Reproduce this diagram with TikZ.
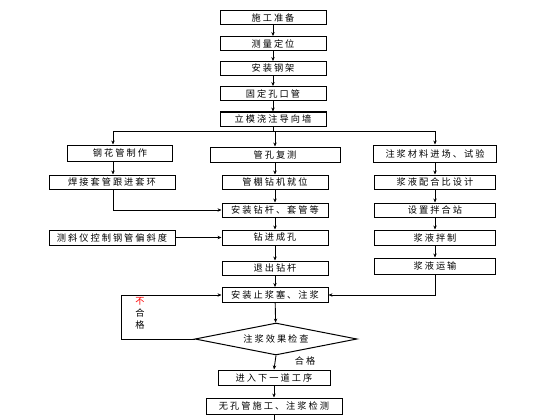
\documentclass[tikz,border=0pt]{standalone}
\usepackage{fontspec}
\newfontfamily\cjk[LetterSpace=22]{Noto Sans CJK SC}
\usetikzlibrary{arrows.meta,shapes.geometric,calc}
\begin{document}
\begin{tikzpicture}[x=1pt,y=-1pt,
  every node/.style={font=\cjk\fontsize{9.2}{10}\selectfont, inner sep=0pt},
  box/.style={draw, line width=1pt, minimum height=14pt, minimum width=#1, anchor=center},
  box/.default=106pt,
  ln/.style={line width=0.9pt},
  arr/.style={line width=0.9pt, -{Stealth[length=4pt,width=3.4pt]}}]
\useasboundingbox[fill=white] (0,0) rectangle (560,420);
% main top column
\node[box] (a1) at (273,17.5) {施工准备};
\node[box] (a2) at (273,43.5) {测量定位};
\node[box] (a3) at (273,68.5) {安装钢架};
\node[box] (a4) at (273,93.5) {固定孔口管};
\node[box] (a5) at (273,119) {立模浇注导向墙};
\coordinate (bl) at (113,131);
\coordinate (bm) at (275,131);
\coordinate (br) at (435,131);
% left column
\node[box=105pt, minimum height=16pt] (L1) at (120,153) {钢花管制作};
\node[box=126pt] (L2) at (112,182) {焊接套管跟进套环};
\node[box=126pt, minimum height=15pt] (L3) at (112,237.5) {测斜仪控制钢管偏斜度};
% middle column
\node[box=130pt, minimum height=15pt] (M1) at (275,154.5) {管孔复测};
\node[box] (M2) at (275,182) {管棚钻机就位};
\node[box] (M3) at (275,210) {安装钻杆、套管等};
\node[box, minimum height=15pt] (M4) at (275,237.5) {钻进成孔};
\node[box] (M5) at (275,268) {退出钻杆};
\node[box, minimum height=15pt] (M6) at (275,295) {安装止浆塞、注浆};
% right column
\node[box=123pt, minimum height=17pt] (R1) at (435,153.5) {注浆材料进场、试验};
\node[box=121pt] (R2) at (435,182) {浆液配合比设计};
\node[box=121pt] (R3) at (435,210) {设置拌合站};
\node[box=121pt, minimum height=15pt] (R4) at (435,237.5) {浆液拌制};
\node[box=121pt, minimum height=16pt] (R5) at (435,266) {浆液运输};
% decision
\node[draw, line width=1pt, diamond, aspect=5, minimum width=162pt, minimum height=32pt] (D) at (276,339) {注浆效果检查};
\node[box=112pt, minimum height=15pt] (N1) at (274,377.5) {进入下一道工序};
\node[box=136pt, minimum height=16pt] (N2) at (274,406) {无孔管施工、注浆检测};
\coordinate (end) at (274,420);
\coordinate (lp1) at (121,339);
\coordinate (lp2) at (121,295);
\coordinate (rp) at (435,295);
\coordinate (lx1) at (113,210);
% connectors
\draw[arr] (a1) -- (a2);
\draw[arr] (a2) -- (a3);
\draw[arr] (a3) -- (a4);
\draw[arr] (a4) -- (a5);
\draw[ln] (a5.south) -- (a5.south |- bm);
\draw[ln] (bl) -- (br);
\draw[arr] (bl) -- (L1.north -| bl);
\draw[arr] (bm) -- (M1.north);
\draw[arr] (br) -- (R1.north);
\draw[arr] (L1.south -| bl) -- (L2.north -| bl);
\draw[arr] (L2.south -| bl) -- (lx1) -- (M3.west);
\draw[arr] (L3.east) -- (M4.west);
\draw[arr] (M1) -- (M2);
\draw[arr] (M2) -- (M3);
\draw[arr] (M3) -- (M4);
\draw[arr] (M4) -- (M5);
\draw[arr] (M5) -- (M6);
\draw[arr] (R1) -- (R2);
\draw[arr] (R2) -- (R3);
\draw[arr] (R3) -- (R4);
\draw[arr] (R4) -- (R5);
\draw[arr] (R5.south) -- (rp) -- (M6.east);
\draw[arr] (M6) -- (D);
\draw[arr] (D.west) -- (lp1) -- (lp2) -- (M6.west);
\draw[arr] (D.south) -- (N1.north);
\draw[arr] (N1) -- (N2);
\draw[ln] (N2.south) -- (end);
% labels
\node (t1) at (140,301) {\textcolor{red}{不}};
\node (t2) at (140,313) {合};
\node (t3) at (140,325) {格};
\node (ok) at (305,361) {合格};
\end{tikzpicture}
\end{document}
